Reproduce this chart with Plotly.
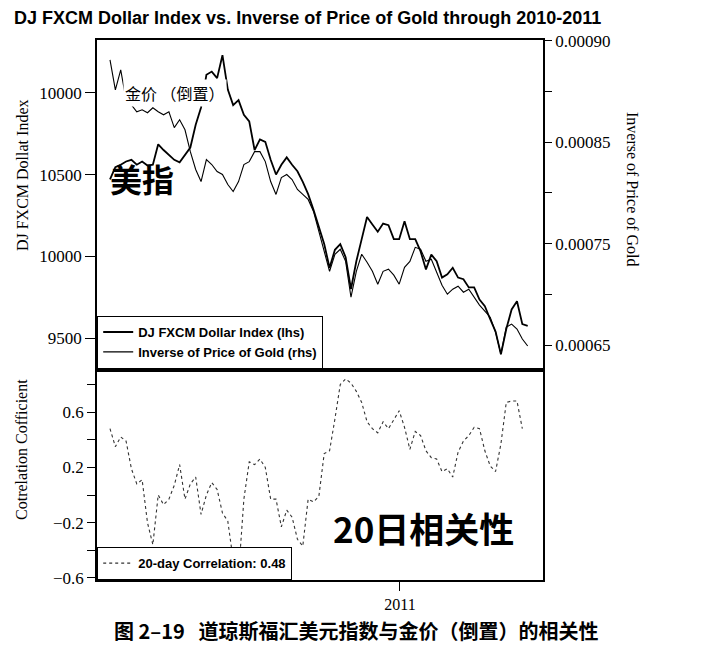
import pandas as pd
import plotly.graph_objects as go

# weekly closes, Dec 2009 - Jun 2011
dates = pd.date_range("2009-12-18", periods=79, freq="7D")

dollar_index = [
    10470, 10545, 10560, 10580, 10590, 10560, 10580, 10555, 10560, 10685,
    10650, 10620, 10590, 10575, 10620, 10665, 10805, 10910, 11110, 11130,
    11090, 11230, 11020, 10925, 10955, 10865, 10825, 10650, 10715, 10700,
    10590, 10500, 10560, 10605, 10560, 10520, 10455, 10380, 10285, 10175,
    10075, 9930, 10040, 10075, 9995, 9800, 9970, 10105, 10240, 10195,
    10150, 10200, 10190, 10105, 10105, 10215, 10105, 10105, 10030, 9920,
    10010, 9970, 9870, 9890, 9930, 9870, 9860, 9810, 9810, 9735,
    9695, 9615, 9540, 9400, 9555, 9675, 9725, 9585, 9575,
]

gold_inverse = [
    0.0008844, 0.0008598, 0.0008762, 0.0008516, 0.0008475, 0.0008418, 0.0008434, 0.0008410, 0.0008451, 0.0008418,
    0.0008393, 0.0008418, 0.0008287, 0.0008352, 0.0008270, 0.0008090, 0.0007943, 0.0007844, 0.0008025, 0.0007984,
    0.0007926, 0.0007902, 0.0007820, 0.0007762, 0.0007844, 0.0007984, 0.0008008, 0.0008090, 0.0008090, 0.0008008,
    0.0007844, 0.0007738, 0.0007877, 0.0007902, 0.0007861, 0.0007779, 0.0007738, 0.0007697, 0.0007598, 0.0007434,
    0.0007287, 0.0007106, 0.0007246, 0.0007287, 0.0007188, 0.0006893, 0.0007106, 0.0007246, 0.0007180, 0.0007106,
    0.0007000, 0.0007106, 0.0007123, 0.0007074, 0.0007000, 0.0007139, 0.0007188, 0.0007303, 0.0007287, 0.0007188,
    0.0007205, 0.0007106, 0.0006992, 0.0006918, 0.0006959, 0.0006984, 0.0006934, 0.0006959, 0.0006893, 0.0006828,
    0.0006779, 0.0006729, 0.0006606, 0.0006426, 0.0006647, 0.0006672, 0.0006631, 0.0006549, 0.0006492,
]

correlation = [
    0.48, 0.35, 0.42, 0.39, 0.19, 0.08, 0.11, -0.20, -0.36, 0.00,
    -0.07, -0.03, 0.07, 0.22, -0.03, 0.08, 0.13, -0.14, 0.00, 0.09,
    0.04, -0.13, -0.19, -0.47, -0.58, -0.03, 0.24, 0.22, 0.26, 0.20,
    -0.03, -0.03, -0.23, -0.11, -0.16, -0.32, -0.37, -0.03, -0.05, -0.01,
    0.30, 0.32, 0.55, 0.80, 0.84, 0.81, 0.75, 0.67, 0.53, 0.48,
    0.45, 0.53, 0.48, 0.55, 0.61, 0.49, 0.33, 0.46, 0.43, 0.32,
    0.27, 0.26, 0.17, 0.19, 0.13, 0.31, 0.39, 0.43, 0.49, 0.48,
    0.32, 0.21, 0.17, 0.37, 0.67, 0.68, 0.68, 0.48,
]

# tick labels as printed (the scan repeats "10000")
left_tickvals = [11000, 10500, 10000, 9500]
left_ticktext = ["10000", "10500", "10000", "9500"]
right_tickvals = [0.00090, 0.00085833, 0.00081667, 0.000775, 0.00073333, 0.00069167, 0.00065]
right_ticktext = ["0.00090", "", "0.00085", "", "0.00075", "", "0.00065"]
corr_tickvals = [0.8, 0.6, 0.4, 0.2, 0.0, -0.2, -0.4, -0.6]
corr_ticktext = ["", "0.6", "", "0.2", "", "\u22120.2", "", "\u22120.6"]

SERIF = "Liberation Serif"
SANS = "Liberation Sans"
CJK = "Noto Sans CJK SC"

fig = go.Figure()

fig.add_trace(go.Scatter(
    x=dates, y=dollar_index, name="<b>DJ FXCM Dollar Index (lhs)</b>",
    mode="lines", line=dict(color="black", width=1.8),
    xaxis="x2", yaxis="y", legend="legend",
))
fig.add_trace(go.Scatter(
    x=dates, y=gold_inverse, name="<b>Inverse of Price of Gold (rhs)</b>",
    mode="lines", line=dict(color="black", width=1.1),
    xaxis="x2", yaxis="y2", legend="legend",
))
fig.add_trace(go.Scatter(
    x=dates[:len(correlation)], y=correlation, name="<b>20-day Correlation: 0.48</b>",
    mode="lines", line=dict(color="#333", width=1.1, dash="dot"),
    xaxis="x", yaxis="y3", legend="legend2",
))

split = 0.389
x_range = ["2009-12-01", "2011-07-07"]
tick_font = dict(family=SERIF, size=17, color="black")

fig.update_layout(
    width=704, height=647,
    margin=dict(l=97, r=161, t=40, b=67),
    paper_bgcolor="white", plot_bgcolor="white",
    showlegend=True,
    title=dict(
        text="<b>DJ FXCM Dollar Index vs. Inverse of Price of Gold through 2010-2011</b>",
        font=dict(family=SANS, size=18, color="black"),
        x=0.02, xanchor="left", y=0.973, yanchor="middle",
    ),
    xaxis=dict(
        domain=[0, 1], anchor="y3", type="date", range=x_range,
        tickvals=["2011-01-01"], ticktext=["2011"], ticks="outside", ticklen=9,
        tickcolor="black", tickfont=dict(family=SERIF, size=16, color="black"),
        showline=True, linecolor="black", linewidth=1.5, mirror=True,
        showgrid=False, zeroline=False,
    ),
    xaxis2=dict(
        domain=[0, 1], anchor="y", type="date", range=x_range, matches="x",
        showticklabels=False, ticks="",
        showline=True, linecolor="black", linewidth=1.5, mirror=True,
        showgrid=False, zeroline=False,
    ),
    yaxis=dict(
        domain=[split, 1], range=[9305, 11323],
        tickvals=left_tickvals, ticktext=left_ticktext,
        ticks="outside", ticklen=10, tickcolor="black", tickfont=tick_font,
        showline=True, linecolor="black", linewidth=1.5, mirror=True,
        showgrid=False, zeroline=False,
    ),
    yaxis2=dict(
        overlaying="y", side="right", anchor="x2",
        range=[0.0006295, 0.0009008],
        tickvals=right_tickvals, ticktext=right_ticktext,
        ticks="outside", ticklen=7, tickcolor="black", tickfont=tick_font,
        showline=True, linecolor="black", linewidth=1.5,
        showgrid=False, zeroline=False,
    ),
    yaxis3=dict(
        domain=[0, split], anchor="x", range=[-0.615, 0.905],
        tickvals=corr_tickvals, ticktext=corr_ticktext,
        ticks="outside", ticklen=8, tickcolor="black", tickfont=tick_font,
        showline=True, linecolor="black", linewidth=1.5, mirror=True,
        showgrid=False, zeroline=False,
    ),
    legend=dict(
        x=0, y=split + 0.002, xanchor="left", yanchor="bottom",
        bgcolor="white", bordercolor="black", borderwidth=1.2,
        font=dict(family=SANS, size=13, color="black"),
        tracegroupgap=0, itemwidth=30,
    ),
    legend2=dict(
        x=0, y=0, xanchor="left", yanchor="bottom",
        bgcolor="white", bordercolor="black", borderwidth=1.2,
        font=dict(family=SANS, size=13, color="black"),
        itemwidth=30,
    ),
)

annotations = [
    dict(text="DJ FXCM Dollat Index", x=-0.168, y=0.75, textangle=-90,
         font=dict(family=SERIF, size=16, color="black")),
    dict(text="Cotrelation Cofficient", x=-0.168, y=0.241, textangle=-90,
         font=dict(family=SERIF, size=16, color="black")),
    dict(text="Inverse of Price of Gold", x=1.202, y=0.724, textangle=90,
         font=dict(family=SERIF, size=16, color="black")),
    dict(text="金价 （倒置）", x=0.175, y=0.902, bgcolor="white",
         font=dict(family=CJK, size=16, color="black")),
    dict(text="<b>美指</b>", x=0.1, y=0.745,
         font=dict(family=CJK, size=32, color="black")),
    dict(text="<b>20日相关性</b>", x=0.731, y=0.098,
         font=dict(family=CJK, size=35, color="black")),
    dict(text="<b>图 2–19   道琼斯福汇美元指数与金价（倒置）的相关性</b>",
         x=0.58, y=-0.093, font=dict(family=CJK, size=20, color="black")),
]
for a in annotations:
    fig.add_annotation(xref="paper", yref="paper", showarrow=False,
                       xanchor="center", yanchor="middle", **a)

fig.write_html("out.html", config={"displayModeBar": False},
               post_script="document.body.style.margin='0px';")
